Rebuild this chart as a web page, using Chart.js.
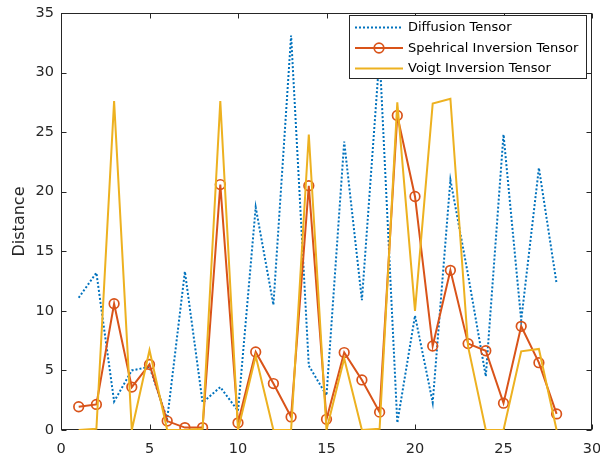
<!DOCTYPE html>
<html>
<head>
<meta charset="utf-8">
<script src="https://cdn.jsdelivr.net/npm/chart.js@4.4.0/dist/chart.umd.min.js"></script>
<style>
html,body{margin:0;padding:0;background:#fff;}
#wrap{width:600px;height:459px;position:relative;}
canvas{display:block;}
</style>
</head>
<body>
<div id="wrap"><canvas id="c" width="600" height="459"></canvas></div>
<script>
// ---- data ----
const xValues   = [1, 2, 3, 4, 5, 6, 7, 8, 9, 10, 11, 12, 13, 14, 15, 16, 17, 18, 19, 20, 21, 22, 23, 24, 25, 26, 27, 28];
const diffusion = [11.1, 13.2, 2.4, 5.0, 5.3, 0.9, 13.3, 2.3, 3.6, 1.6, 18.7, 10.5, 33.1, 5.4, 2.9, 24.2, 10.9, 31.5, 0.6, 9.6, 2.3, 21.0, 13.0, 4.5, 24.8, 9.2, 22.0, 12.3];
const spherical = [1.95, 2.15, 10.6, 3.6, 5.5, 0.75, 0.2, 0.2, 20.6, 0.6, 6.55, 3.9, 1.1, 20.5, 0.9, 6.5, 4.2, 1.5, 26.4, 19.6, 7.05, 13.4, 7.25, 6.65, 2.25, 8.7, 5.65, 1.35];
const voigt     = [0.0, 0.1, 27.6, 0.0, 6.7, 0.0, 0.0, 0.1, 27.6, 0.0, 6.2, 0.0, 0.0, 24.8, 0.0, 6.0, 0.0, 0.1, 27.5, 10.0, 27.4, 27.8, 7.0, 0.0, 0.0, 6.6, 6.8, 0.0];
const seriesNames = ['Diffusion Tensor', 'Spehrical Inversion Tensor', 'Voigt Inversion Tensor'];
const xTicks = [0, 5, 10, 15, 20, 25, 30];
const yTicks = [0, 5, 10, 15, 20, 25, 30, 35];
const yTitle = 'Distance';

const FONT = '"DejaVu Sans", "Liberation Sans", Arial, sans-serif';
const AXIS_COLOR = '#262626';
const colors = ['#0072BD', '#D95319', '#EDB120'];

function pts(arr) { return xValues.map((x, i) => ({x: x, y: arr[i]})); }

const matlabAxes = {
  id: 'matlabAxes',
  beforeDatasetsDraw(chart) {
    const {ctx, chartArea: a, scales} = chart;
    ctx.save();
    ctx.strokeStyle = AXIS_COLOR;
    ctx.lineWidth = 1;
    const L = Math.round(a.left) + 0.5, R = Math.round(a.right) - 0.5;
    const T = Math.round(a.top) + 0.5, B = Math.round(a.bottom) - 0.5;
    ctx.strokeRect(L, T, R - L, B - T);
    const tl = 5;
    ctx.beginPath();
    xTicks.forEach(v => {
      const px = Math.round(scales.x.getPixelForValue(v)) + 0.5;
      ctx.moveTo(px, B); ctx.lineTo(px, B - tl);
      ctx.moveTo(px, T); ctx.lineTo(px, T + tl);
    });
    yTicks.forEach(v => {
      const py = Math.round(scales.y.getPixelForValue(v)) + 0.5;
      ctx.moveTo(L, py); ctx.lineTo(L + tl, py);
      ctx.moveTo(R, py); ctx.lineTo(R - tl, py);
    });
    ctx.stroke();
    ctx.restore();
  }
};

const boxLegend = {
  id: 'boxLegend',
  afterDatasetsDraw(chart) {
    const ctx = chart.ctx;
    const bx = 349.5, by = 15.5, bw = 237, bh = 63;
    ctx.save();
    ctx.fillStyle = '#fff';
    ctx.fillRect(bx, by, bw, bh);
    ctx.strokeStyle = AXIS_COLOR;
    ctx.lineWidth = 1;
    ctx.strokeRect(bx, by, bw, bh);
    const rows = [27.5, 48, 68.5];
    const x0 = 355, x1 = 403;
    chart.data.datasets.forEach((ds, i) => {
      const y = rows[i];
      ctx.strokeStyle = ds.borderColor;
      ctx.lineWidth = ds.borderWidth;
      ctx.setLineDash(ds.borderDash || []);
      ctx.beginPath(); ctx.moveTo(x0, y); ctx.lineTo(x1, y); ctx.stroke();
      ctx.setLineDash([]);
      if (ds.pointRadius > 0) {
        ctx.lineWidth = ds.pointBorderWidth;
        ctx.strokeStyle = ds.pointBorderColor;
        ctx.beginPath(); ctx.arc((x0 + x1) / 2, y, ds.pointRadius, 0, Math.PI * 2); ctx.stroke();
      }
      ctx.fillStyle = '#000';
      ctx.font = '13px ' + FONT;
      ctx.textBaseline = 'middle';
      ctx.textAlign = 'left';
      ctx.fillText(seriesNames[i], 408, y + 0.5);
    });
    ctx.restore();
  }
};

new Chart(document.getElementById('c'), {
  type: 'line',
  data: {
    datasets: [
      {label: seriesNames[0], data: pts(diffusion), borderColor: colors[0], borderWidth: 2, borderDash: [2, 2],
       pointRadius: 0, fill: false, tension: 0, order: 2},
      {label: seriesNames[1], data: pts(spherical), borderColor: colors[1], borderWidth: 2,
       pointRadius: 4.8, pointBorderWidth: 1.7, pointBorderColor: colors[1], pointBackgroundColor: 'rgba(0,0,0,0)',
       pointHoverRadius: 4.8, fill: false, tension: 0, order: 1},
      {label: seriesNames[2], data: pts(voigt), borderColor: colors[2], borderWidth: 2,
       pointRadius: 0, fill: false, tension: 0, order: 0}
    ]
  },
  options: {
    responsive: false,
    animation: false,
    devicePixelRatio: 1,
    layout: {padding: {top: 13, right: 8, left: 0, bottom: 0}},
    plugins: {legend: {display: false}, tooltip: {enabled: false}},
    events: [],
    scales: {
      x: {
        type: 'linear', min: 0, max: 30,
        afterBuildTicks(s) { s.ticks = xTicks.map(v => ({value: v})); },
        afterFit(s) { s.height = 29; s.paddingLeft = 0; s.paddingRight = 0; },
        grid: {display: false, drawTicks: false},
        border: {display: false},
        ticks: {color: AXIS_COLOR, font: {family: FONT, size: 14.5}, padding: 11, maxRotation: 0}
      },
      y: {
        type: 'linear', min: 0, max: 35,
        afterBuildTicks(s) { s.ticks = yTicks.map(v => ({value: v})); },
        afterFit(s) { s.width = 61; s.paddingTop = 0; s.paddingBottom = 0; },
        grid: {display: false, drawTicks: false},
        border: {display: false},
        ticks: {color: AXIS_COLOR, font: {family: FONT, size: 14.5}, padding: 7},
        title: {display: true, text: yTitle, color: AXIS_COLOR, font: {family: FONT, size: 16}, padding: {top: 10, bottom: 0}}
      }
    }
  },
  plugins: [matlabAxes, boxLegend]
});
</script>
</body>
</html>
